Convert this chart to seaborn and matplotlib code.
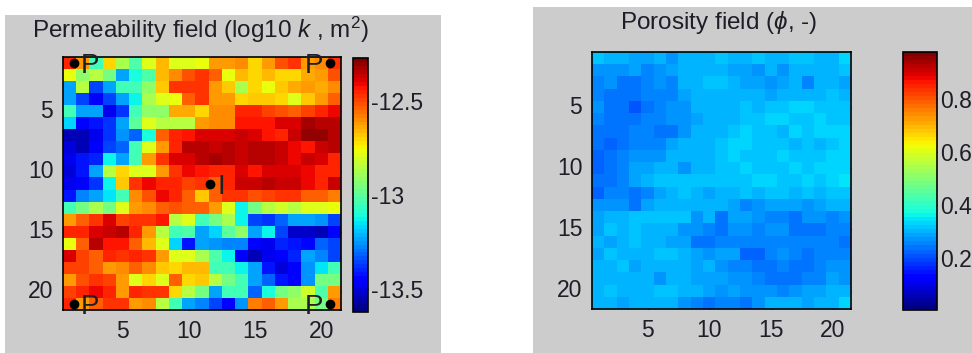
import numpy as np
import matplotlib
matplotlib.use("Agg")
import matplotlib.pyplot as plt
import seaborn as sns
from matplotlib.patches import Rectangle

sns.set_theme(style="white")
plt.rcParams["font.family"] = ["Liberation Sans", "DejaVu Sans"]
plt.rcParams["axes.unicode_minus"] = False
plt.rcParams["mathtext.fontset"] = "custom"
plt.rcParams["mathtext.rm"] = "Liberation Sans"
plt.rcParams["mathtext.it"] = "Liberation Sans:italic"

# ---------------- data ----------------
perm = [
    [-12.45,-12.61,-13.03,-12.70,-12.88,-13.01,-12.78,-12.65,-12.78,-12.78,-12.77,-12.61,-12.62,-12.59,-12.70,-12.61,-12.51,-12.47,-12.61,-12.59,-12.47],
    [-12.77,-12.92,-12.86,-12.95,-13.22,-13.11,-13.01,-12.65,-12.59,-12.51,-12.47,-12.54,-12.77,-12.65,-12.70,-12.65,-12.70,-12.70,-12.63,-12.61,-12.51],
    [-13.22,-12.85,-13.35,-13.22,-13.03,-13.03,-12.92,-12.68,-12.47,-12.46,-12.46,-12.61,-12.68,-12.88,-12.70,-12.77,-12.68,-12.63,-12.62,-12.63,-12.59],
    [-13.24,-13.35,-13.46,-13.35,-13.24,-13.12,-12.88,-12.78,-12.77,-12.54,-12.46,-12.61,-12.62,-12.70,-12.68,-12.68,-12.70,-12.78,-12.68,-12.61,-12.54],
    [-13.03,-13.24,-13.24,-13.49,-13.38,-13.03,-12.92,-12.92,-12.63,-12.63,-12.70,-12.59,-12.59,-12.45,-12.45,-12.50,-12.51,-12.54,-12.50,-12.45,-12.40],
    [-13.17,-13.46,-13.43,-13.38,-13.24,-12.99,-12.78,-12.85,-12.85,-12.86,-12.62,-12.59,-12.59,-12.43,-12.43,-12.43,-12.38,-12.38,-12.32,-12.34,-12.35],
    [-13.54,-13.54,-13.49,-13.38,-13.26,-13.32,-13.11,-12.54,-12.45,-12.43,-12.38,-12.38,-12.38,-12.36,-12.38,-12.43,-12.45,-12.36,-12.31,-12.31,-12.34],
    [-13.51,-13.55,-13.46,-13.35,-13.32,-13.03,-12.78,-12.61,-12.45,-12.34,-12.35,-12.36,-12.34,-12.36,-12.35,-12.34,-12.36,-12.40,-12.43,-12.36,-12.35],
    [-13.49,-13.43,-13.39,-13.13,-13.22,-13.03,-12.62,-12.46,-12.38,-12.38,-12.35,-12.32,-12.35,-12.36,-12.34,-12.35,-12.36,-12.40,-12.36,-12.38,-12.45],
    [-13.51,-13.43,-13.22,-12.84,-12.70,-12.78,-12.78,-12.61,-12.46,-12.40,-12.43,-12.45,-12.45,-12.38,-12.43,-12.38,-12.38,-12.38,-12.40,-12.45,-12.45],
    [-13.49,-13.46,-13.38,-13.12,-12.68,-12.46,-12.40,-12.45,-12.45,-12.50,-12.47,-12.54,-12.45,-12.36,-12.36,-12.35,-12.36,-12.36,-12.40,-12.45,-12.36],
    [-13.42,-13.28,-13.22,-13.15,-13.04,-12.59,-12.51,-12.40,-12.45,-12.54,-12.68,-12.54,-12.47,-12.47,-12.51,-12.50,-12.46,-12.46,-12.54,-12.54,-12.57],
    [-13.03,-12.95,-12.88,-12.95,-12.78,-12.61,-12.59,-12.54,-12.51,-12.54,-12.54,-12.62,-12.78,-13.12,-12.95,-12.86,-12.81,-12.85,-12.78,-12.78,-12.77],
    [-12.61,-12.54,-12.46,-12.38,-12.50,-12.46,-12.46,-12.43,-12.84,-12.78,-13.03,-12.95,-12.88,-13.12,-13.35,-13.38,-13.32,-13.24,-13.24,-13.26,-13.35],
    [-12.45,-12.45,-12.38,-12.36,-12.35,-12.45,-12.61,-12.86,-13.03,-13.01,-13.22,-13.17,-12.99,-12.92,-13.22,-13.13,-13.35,-13.53,-13.53,-13.55,-13.46],
    [-12.77,-12.54,-12.34,-12.43,-12.43,-12.54,-12.65,-12.78,-13.17,-13.42,-13.24,-13.26,-13.28,-13.27,-13.44,-13.49,-13.39,-13.42,-13.44,-13.31,-13.35],
    [-12.38,-12.50,-12.54,-12.45,-12.46,-12.45,-12.46,-12.61,-12.78,-12.78,-12.88,-13.01,-13.12,-13.46,-13.54,-13.49,-13.46,-13.39,-13.24,-13.27,-13.35],
    [-12.50,-12.50,-12.54,-12.62,-12.59,-12.54,-12.59,-12.68,-12.70,-12.65,-12.65,-13.05,-13.03,-13.13,-13.22,-13.42,-13.51,-13.46,-13.26,-13.15,-13.03],
    [-12.61,-12.51,-12.46,-12.50,-12.61,-12.78,-12.70,-12.78,-12.54,-12.70,-12.68,-12.85,-12.95,-13.04,-13.24,-13.32,-13.43,-13.46,-13.26,-12.95,-12.95],
    [-12.50,-12.45,-12.40,-12.45,-12.61,-12.45,-12.46,-12.46,-12.70,-12.86,-12.95,-13.22,-13.05,-13.03,-13.32,-13.11,-12.95,-12.92,-12.81,-13.01,-12.61],
    [-12.45,-12.61,-12.54,-12.46,-12.46,-12.61,-12.59,-12.86,-13.03,-13.24,-13.28,-13.35,-13.44,-13.26,-12.57,-12.54,-12.61,-12.88,-12.88,-12.95,-12.57],
]

poro = [
    [.321,.309,.302,.285,.285,.302,.273,.302,.302,.309,.316,.297,.302,.316,.297,.297,.321,.321,.309,.302,.333],
    [.273,.273,.273,.292,.260,.273,.292,.309,.309,.302,.302,.292,.292,.273,.297,.273,.297,.309,.302,.302,.316],
    [.260,.277,.236,.248,.260,.273,.260,.309,.309,.321,.321,.302,.292,.292,.273,.285,.309,.260,.297,.302,.285],
    [.260,.248,.236,.248,.260,.260,.260,.292,.302,.309,.302,.309,.297,.297,.285,.302,.309,.302,.297,.316,.309],
    [.273,.236,.248,.212,.248,.260,.273,.277,.297,.302,.297,.302,.316,.309,.321,.316,.326,.333,.321,.321,.316],
    [.260,.236,.248,.248,.260,.260,.273,.277,.292,.297,.302,.309,.316,.321,.326,.326,.321,.316,.326,.321,.321],
    [.236,.236,.236,.260,.260,.248,.248,.277,.297,.302,.309,.321,.326,.316,.321,.309,.326,.316,.333,.326,.326],
    [.236,.224,.248,.260,.260,.260,.285,.302,.302,.309,.316,.326,.326,.316,.321,.316,.302,.316,.309,.321,.326],
    [.224,.248,.260,.277,.273,.273,.302,.309,.309,.297,.316,.326,.321,.321,.321,.326,.316,.321,.316,.333,.333],
    [.224,.248,.260,.292,.285,.297,.297,.273,.302,.302,.321,.321,.326,.316,.321,.321,.326,.321,.326,.326,.333],
    [.248,.248,.260,.285,.309,.316,.321,.321,.316,.321,.316,.321,.316,.326,.326,.321,.316,.333,.321,.326,.341],
    [.224,.260,.260,.236,.260,.285,.302,.316,.309,.285,.297,.309,.321,.309,.316,.316,.309,.316,.302,.321,.316],
    [.273,.273,.273,.248,.285,.297,.297,.309,.309,.297,.297,.285,.260,.277,.285,.285,.292,.277,.285,.297,.297],
    [.285,.309,.309,.321,.321,.321,.321,.316,.273,.297,.248,.285,.285,.268,.260,.260,.248,.273,.273,.260,.273],
    [.292,.321,.309,.321,.302,.297,.302,.277,.273,.260,.248,.273,.277,.260,.277,.277,.236,.236,.236,.260,.260],
    [.297,.292,.309,.316,.302,.297,.285,.292,.248,.236,.260,.260,.260,.260,.260,.260,.260,.260,.260,.260,.248],
    [.292,.316,.302,.297,.302,.321,.321,.297,.285,.273,.285,.285,.229,.229,.260,.273,.260,.248,.260,.260,.260],
    [.297,.302,.316,.285,.302,.302,.302,.297,.292,.297,.273,.260,.260,.248,.248,.260,.236,.236,.260,.273,.277],
    [.302,.297,.297,.302,.302,.277,.302,.302,.285,.285,.285,.273,.277,.260,.248,.248,.248,.260,.260,.285,.273],
    [.297,.316,.302,.302,.297,.321,.321,.309,.297,.292,.273,.285,.277,.277,.268,.260,.277,.285,.285,.297,.297],
    [.302,.309,.292,.302,.309,.309,.309,.277,.260,.248,.260,.260,.248,.277,.302,.309,.309,.285,.309,.309,.326],
]

grid_ticks = [5, 10, 15, 20]
perm_cbar_ticks = [-13.5, -13.0, -12.5]
perm_cbar_labels = ["-13.5", "-13", "-12.5"]
poro_cbar_ticks = [0.2, 0.4, 0.6, 0.8]
poro_cbar_labels = ["0.2", "0.4", "0.6", "0.8"]
perm_limits = (-13.62, -12.27)
poro_limits = (0.005, 0.978)

well_names = ["P", "P", "P", "P", "I"]
well_x = [1.3, 20.7, 1.3, 20.7, 11.6]
well_y = [1.0, 1.0, 21.0, 21.0, 11.0]

title_perm = "Permeability field (log10 $k$ , m$^2$)"
title_poro = r"Porosity field ($\phi$, -)"

# ---------------- layout ----------------
W, H = 972, 353
GRAY = "#cccccc"
TXT = "#1e1e28"
fig = plt.figure(figsize=(W / 100, H / 100), dpi=100, facecolor="white")


def box(x0, y0, x1, y1):
    return [x0 / W, 1 - y1 / H, (x1 - x0) / W, (y1 - y0) / H]


for (x0, y0, x1, y1) in [(5, 15, 441, 353), (533, 7, 972, 353)]:
    fig.patches.append(Rectangle((x0 / W, 1 - y1 / H), (x1 - x0) / W, (y1 - y0) / H,
                                 transform=fig.transFigure, facecolor=GRAY,
                                 edgecolor="none", zorder=-5))

cmap = plt.get_cmap("jet", 64)


def style_map(ax, cax, cticks, clabels, cpad):
    ticks = np.array(grid_ticks) - 0.5
    ax.set_xticks(ticks)
    ax.set_xticklabels([str(t) for t in grid_ticks], rotation=0)
    ax.set_yticks(ticks)
    ax.set_yticklabels([str(t) for t in grid_ticks], rotation=0)
    ax.tick_params(direction="in", length=4, width=1, color="black",
                   top=True, right=True, bottom=True, left=True,
                   labelsize=16.5, labelcolor=TXT, pad=7)
    for s in ax.spines.values():
        s.set_visible(True)
        s.set_color("black")
        s.set_linewidth(1.2)
    cb = ax.collections[0].colorbar
    cb.set_ticks(cticks)
    cb.set_ticklabels(clabels)
    cb.outline.set_visible(True)
    cb.outline.set_linewidth(1.2)
    cb.outline.set_edgecolor("black")
    cax.tick_params(direction="in", length=4, width=1, color="black",
                    left=True, right=True, labelsize=16.5, labelcolor=TXT, pad=cpad)
    ax.set_xlabel("")
    ax.set_ylabel("")


# Permeability
ax1 = fig.add_axes(box(63, 57, 341, 310))
cax1 = fig.add_axes(box(353, 58, 368, 312))
sns.heatmap(np.array(perm), ax=ax1, cbar_ax=cax1, cmap=cmap,
            vmin=perm_limits[0], vmax=perm_limits[1])
style_map(ax1, cax1, perm_cbar_ticks, perm_cbar_labels, 2)

wx = np.array(well_x) - 0.5
wy = np.array(well_y) - 0.5
ax1.scatter(wx, wy, s=36, color="black", zorder=5, clip_on=False)
for name, x, y in zip(well_names, wx, wy):
    if name == "P" and x > 10:
        ax1.text(x - 0.55, y, name, ha="right", va="center_baseline",
                 fontsize=20, color=TXT, zorder=6, clip_on=False)
    else:
        ax1.text(x + 0.55, y, name, ha="left", va="center_baseline",
                 fontsize=20, color=TXT, zorder=6, clip_on=False)

# Porosity
ax2 = fig.add_axes(box(592, 52, 851, 309))
cax2 = fig.add_axes(box(903, 52, 937, 310))
sns.heatmap(np.array(poro), ax=ax2, cbar_ax=cax2, cmap=cmap,
            vmin=poro_limits[0], vmax=poro_limits[1])
style_map(ax2, cax2, poro_cbar_ticks, poro_cbar_labels, 2)

fig.text(200 / W, 1 - 30 / H, title_perm, ha="center", va="center",
         fontsize=17.5, color=TXT)
fig.text(719 / W, 1 - 22 / H, title_poro, ha="center", va="center",
         fontsize=17.5, color=TXT)

fig.savefig("out.png", dpi=100, facecolor="white")
